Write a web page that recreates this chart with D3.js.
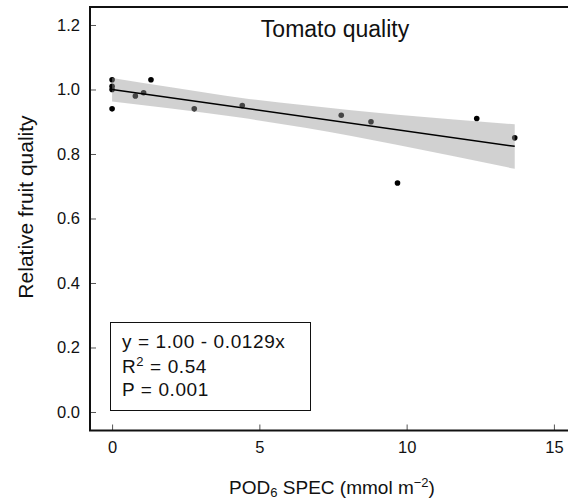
<!DOCTYPE html>
<html>
<head>
<meta charset="utf-8">
<script src="https://cdn.jsdelivr.net/npm/d3@7"></script>
<style>
  html, body { margin: 0; padding: 0; background: #fff; }
  svg { display: block; font-family: "Liberation Sans", Arial, sans-serif; }
</style>
</head>
<body>
<svg id="chart" width="568" height="501"></svg>
<script>
// Observations: POD6 SPEC dose vs relative fruit quality
const podSpec = [0, 0, 0, 0, 0.79, 1.07, 1.32, 2.79, 4.42, 7.78, 8.79, 9.69, 12.38, 13.67];
const fruitQuality = [1.03, 1.01, 1.00, 0.94, 0.98, 0.99, 1.03, 0.94, 0.95, 0.92, 0.90, 0.71, 0.91, 0.85];

// Fitted line: y = 1.00 - 0.0129x
const intercept = 1.00;
const slope = -0.0129;

// 95% confidence band edges along the fit
const bandX = [0, 2, 4.4, 6.55, 9.7, 13.67];
const bandUpper = [1.036, 1.007, 0.974, 0.951, 0.922, 0.892];
const bandLower = [0.963, 0.941, 0.912, 0.881, 0.828, 0.754];

const xTicks = [0, 5, 10, 15];
const yTicks = [0, 0.2, 0.4, 0.6, 0.8, 1.0, 1.2];

const svg = d3.select("#chart");

const x = d3.scaleLinear().domain([-0.75, 15.75]).range([90, 576]);
const y = d3.scaleLinear().domain([-0.0574, 1.2558]).range([430.5, 7]);

// Points
svg.append("g").selectAll("circle")
  .data(podSpec.map((v, i) => ({ x: v, y: fruitQuality[i] })))
  .join("circle")
  .attr("cx", d => x(d.x))
  .attr("cy", d => y(d.y))
  .attr("r", 2.8)
  .attr("fill", "#000");

// Confidence band (drawn over the points, semi-transparent)
const bandData = bandX.map((v, i) => ({ x: v, lo: bandLower[i], hi: bandUpper[i] }));
svg.append("path")
  .datum(bandData)
  .attr("d", d3.area()
    .x(d => x(d.x))
    .y0(d => y(d.lo))
    .y1(d => y(d.hi))
    .curve(d3.curveMonotoneX))
  .attr("fill", "#9a9a9a")
  .attr("fill-opacity", 0.45);

// Regression line
const xMax = d3.max(podSpec);
svg.append("path")
  .datum([0, xMax])
  .attr("d", d3.line().x(d => x(d)).y(d => y(intercept + slope * d)))
  .attr("stroke", "#000")
  .attr("stroke-width", 1.5)
  .attr("fill", "none");

// Axes with inward ticks
const xAxis = svg.append("g")
  .attr("transform", `translate(0,${y.range()[0]})`)
  .call(d3.axisBottom(x).tickValues(xTicks).tickSize(-6).tickPadding(11).tickFormat(d3.format("d")));
const yAxis = svg.append("g")
  .attr("transform", `translate(${x.range()[0]},0)`)
  .call(d3.axisLeft(y).tickValues(yTicks).tickSize(-6).tickPadding(10).tickFormat(d3.format(".1f")));

[xAxis, yAxis].forEach(g => {
  g.select(".domain").remove();
  g.selectAll(".tick line").attr("stroke", "#555").attr("stroke-width", 1);
  g.selectAll(".tick text").attr("fill", "#111").style("font-size", "16.5px")
    .style("font-family", "'Liberation Sans', Arial, sans-serif");
});

// Plot frame
svg.append("rect")
  .attr("x", x.range()[0])
  .attr("y", y.range()[1])
  .attr("width", x.range()[1] - x.range()[0])
  .attr("height", y.range()[0] - y.range()[1])
  .attr("fill", "none")
  .attr("stroke", "#111")
  .attr("stroke-width", 2);

// Title
svg.append("text")
  .attr("x", 335)
  .attr("y", 37)
  .attr("text-anchor", "middle")
  .style("font-size", "23px")
  .attr("fill", "#111")
  .text("Tomato quality");

// Y axis title
svg.append("text")
  .attr("transform", "translate(33,207) rotate(-90)")
  .attr("text-anchor", "middle")
  .style("font-size", "21px")
  .attr("fill", "#111")
  .text("Relative fruit quality");

// X axis title with subscript and superscript
const xt = svg.append("text")
  .attr("x", 332)
  .attr("y", 494)
  .attr("text-anchor", "middle")
  .style("font-size", "19px")
  .attr("fill", "#111");
xt.append("tspan").text("POD");
xt.append("tspan").attr("dy", 3).style("font-size", "13px").text("6");
xt.append("tspan").attr("dy", -3).text(" SPEC (mmol m");
xt.append("tspan").attr("dy", -7).style("font-size", "13px").text("\u22122");
xt.append("tspan").attr("dy", 7).text(")");

// Statistics box
svg.append("rect")
  .attr("x", 110.5).attr("y", 322.5)
  .attr("width", 200).attr("height", 88)
  .attr("fill", "#fff")
  .attr("stroke", "#111")
  .attr("stroke-width", 1);

const st = svg.append("g").style("font-size", "19px").style("letter-spacing", "0.6px").attr("fill", "#111");
st.append("text").attr("x", 122).attr("y", 347.5).text("y = 1.00 - 0.0129x");
const r2 = st.append("text").attr("x", 122).attr("y", 372.5);
r2.append("tspan").text("R");
r2.append("tspan").attr("dy", -7).style("font-size", "13px").text("2");
r2.append("tspan").attr("dy", 7).text("  = 0.54");
st.append("text").attr("x", 122).attr("y", 395.5).text("P = 0.001");
</script>
</body>
</html>
